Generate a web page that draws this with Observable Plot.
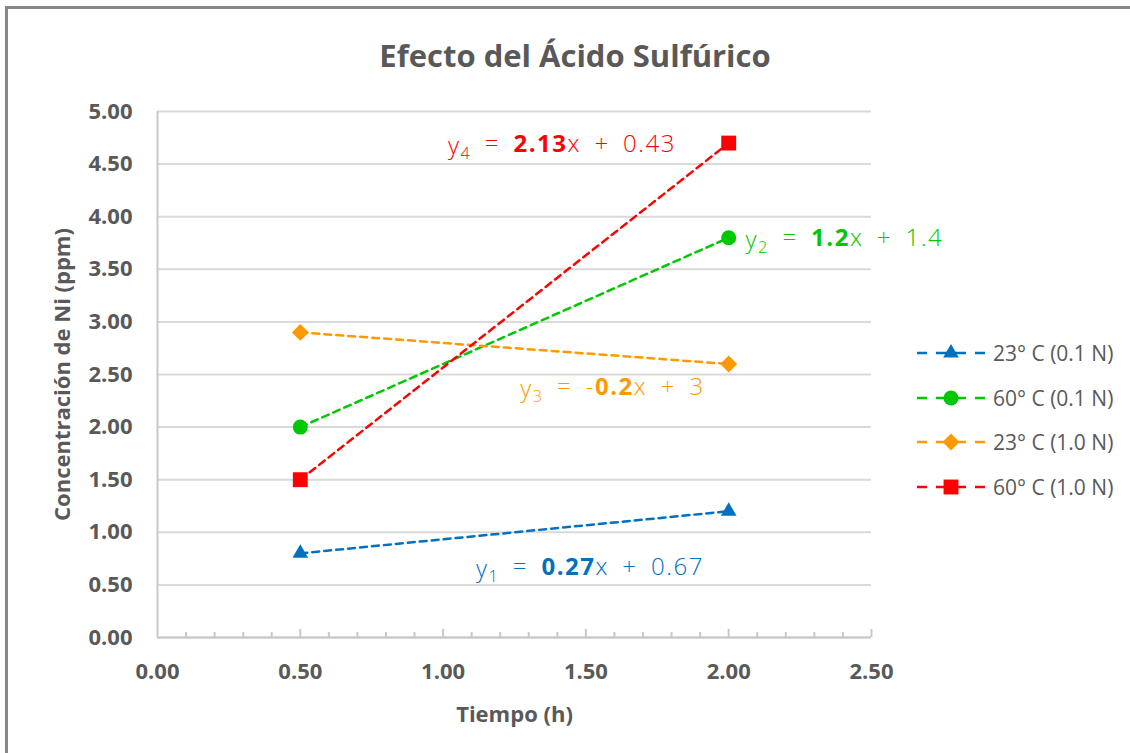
<!DOCTYPE html>
<html lang="es">
<head>
<meta charset="utf-8">
<title>Efecto del Ácido Sulfúrico</title>
<script src="https://cdn.jsdelivr.net/npm/d3@7"></script>
<script src="https://cdn.jsdelivr.net/npm/@observablehq/plot@0.6"></script>
<style>
  html, body { margin: 0; padding: 0; background: #fff; }
  #chart { position: relative; width: 1130px; height: 753px; overflow: hidden; font-family: "Open Sans", sans-serif; }
  #frame { position: absolute; left: 5px; top: 6px; width: 1150px; height: 780px; border: 3px solid #878787; box-sizing: border-box; }
  #title { position: absolute; left: 10px; top: 0; width: 1130px; height: 95px; line-height: 110px; text-align: center;
           font-size: 31px; font-weight: 700; color: #595959; }
  #plot { position: absolute; left: 0; top: 95px; }
  #legend { position: absolute; left: 915px; top: 331px; }
  .row { height: 44.5px; display: flex; align-items: center; }
  .row span { margin-left: 8px; font-size: 21px; color: #595959; white-space: nowrap; }
</style>
</head>
<body>
<div id="chart">
  <div id="frame"></div>
  <div id="title">Efecto del Ácido Sulfúrico</div>
  <div id="plot"></div>
  <div id="legend"></div>
</div>
<script>
// Series (temperature and acid normality)
const series = ["23° C (0.1 N)", "60° C (0.1 N)", "23° C (1.0 N)", "60° C (1.0 N)"];
const colors = ["#0070C0", "#00C800", "#FF9900", "#FF0000"];
const symbols = ["triangle", "circle", "diamond2", "square"];

// Measured time (h) and Ni concentration (ppm)
const tiempo = [0.5, 2.0];
const conc23_01 = [0.8, 1.2];
const conc60_01 = [2.0, 3.8];
const conc23_10 = [2.9, 2.6];
const conc60_10 = [1.5, 4.7];

// Fitted lines y = m·x + b
const eqIndex = [1, 2, 3, 4];
const slopes = [0.27, 1.2, -0.2, 2.13];
const intercepts = [0.67, 1.4, 3, 0.43];

// Axis ticks
const xTicks = [0, 0.5, 1.0, 1.5, 2.0, 2.5];
const xMinorTicks = [0.1, 0.2, 0.3, 0.4, 0.6, 0.7, 0.8, 0.9, 1.1, 1.2, 1.3, 1.4, 1.6, 1.7, 1.8, 1.9, 2.1, 2.2, 2.3, 2.4];
const yTicks = [0, 0.5, 1.0, 1.5, 2.0, 2.5, 3.0, 3.5, 4.0, 4.5, 5.0];

const concs = [conc23_01, conc60_01, conc23_10, conc60_10];
const points = series.flatMap((s, i) => tiempo.map((t, j) => ({serie: s, t, c: concs[i][j]})));

// Where each equation label sits, in data units (x, y)
const labelAt = [[1.514, 0.646], [2.405, 3.774], [1.593, 2.357], [1.416, 4.667]];
const equations = series.map((s, i) => ({
  serie: s, n: eqIndex[i], m: slopes[i], b: intercepts[i],
  lx: labelAt[i][0], ly: labelAt[i][1]
}));

// Marker radii chosen so the four symbols look the same size
const markerR = {triangle: 5.8, circle: 7.5, diamond2: 7.6, square: 8.4};

const axisGray = "#c8c8c8";
const textGray = "#595959";
const sp = "\u2002"; // wide space used in the equations

const plot = Plot.plot({
  width: 1130,
  height: 658,
  marginTop: 16,
  marginBottom: 116,
  marginLeft: 157,
  marginRight: 259,
  x: {domain: [0, 2.5]},
  y: {domain: [0, 5]},
  color: {domain: series, range: colors},
  style: {fontFamily: "Open Sans, sans-serif", background: "transparent", overflow: "visible"},
  marks: [
    Plot.gridY(yTicks, {stroke: "#d9d9d9", strokeOpacity: 1, strokeWidth: 2}),
    Plot.ruleX([0], {stroke: axisGray, strokeWidth: 2}),
    Plot.ruleY([0], {stroke: axisGray, strokeWidth: 2}),
    Plot.tickX(xMinorTicks, {x: d => d, stroke: axisGray, strokeWidth: 2, insetTop: 521}),
    Plot.tickX(xTicks.slice(1), {x: d => d, stroke: axisGray, strokeWidth: 2, insetTop: 518}),
    Plot.axisX(xTicks, {tickSize: 0, tickPadding: 26, tickFormat: d3.format(".2f"), fontSize: 22, fontWeight: "bold", color: textGray, label: null}),
    Plot.axisY(yTicks, {tickSize: 0, tickPadding: 25, tickFormat: d3.format(".2f"), fontSize: 22, fontWeight: "bold", color: textGray, label: null}),
    Plot.text(["Tiempo (h)"], {frameAnchor: "bottom", dy: 84, fontSize: 22, fontWeight: "bold", fill: textGray}),
    Plot.text(["Concentración de Ni (ppm)"], {frameAnchor: "left", textAnchor: "middle", dx: -95, rotate: -90, fontSize: 22, fontWeight: "bold", fill: textGray}),
    Plot.line(points, {x: "t", y: "c", z: "serie", stroke: "serie", strokeWidth: 2.5, strokeDasharray: "7,5"}),
    ...series.map((s, i) => Plot.dot(points.filter(p => p.serie === s), {
      x: "t", y: "c", fill: "serie", stroke: "none", symbol: () => symbols[i], r: markerR[symbols[i]]
    })),
    Plot.text(equations, {
      x: "lx", y: "ly", fill: "serie", text: d => `y${d.n} = ${d.m}x + ${d.b}`,
      fontSize: 24, fontWeight: 300, ariaDescription: "equations"
    })
  ],
  symbol: {domain: symbols, range: symbols}
});

// Rich formatting of the equation labels: subscript index and bold slope
d3.select(plot).selectAll('g[aria-description="equations"] text').each(function (_, i) {
  const e = equations[i];
  const t = d3.select(this).text(null).attr("letter-spacing", "1.5px");
  t.append("tspan").text("y");
  t.append("tspan").attr("font-size", "0.68em").attr("dy", "0.32em").text(e.n);
  t.append("tspan").attr("dy", "-0.32em").text(sp + "=" + sp + (e.m < 0 ? "-" : ""));
  t.append("tspan").attr("font-weight", 700).text(Math.abs(e.m));
  t.append("tspan").text("x" + sp + "+" + sp + e.b);
});

document.getElementById("plot").appendChild(plot);

// Legend: dashed line with the series marker, then its name
const legend = d3.select("#legend");
series.forEach((s, i) => {
  const row = legend.append("div").attr("class", "row");
  const svg = row.append("svg").attr("width", 70).attr("height", 24);
  svg.append("line").attr("x1", 2).attr("x2", 70).attr("y1", 12).attr("y2", 12)
    .attr("stroke", colors[i]).attr("stroke-width", 2.5).attr("stroke-dasharray", "10,9,30,9,10");
  const r = markerR[symbols[i]];
  const sym = {triangle: d3.symbolTriangle, circle: d3.symbolCircle, diamond2: d3.symbolDiamond2, square: d3.symbolSquare}[symbols[i]];
  svg.append("path").attr("transform", "translate(36,12)")
    .attr("d", d3.symbol(sym, Math.PI * r * r)()).attr("fill", colors[i]);
  row.append("span").text(s);
});
</script>
</body>
</html>
